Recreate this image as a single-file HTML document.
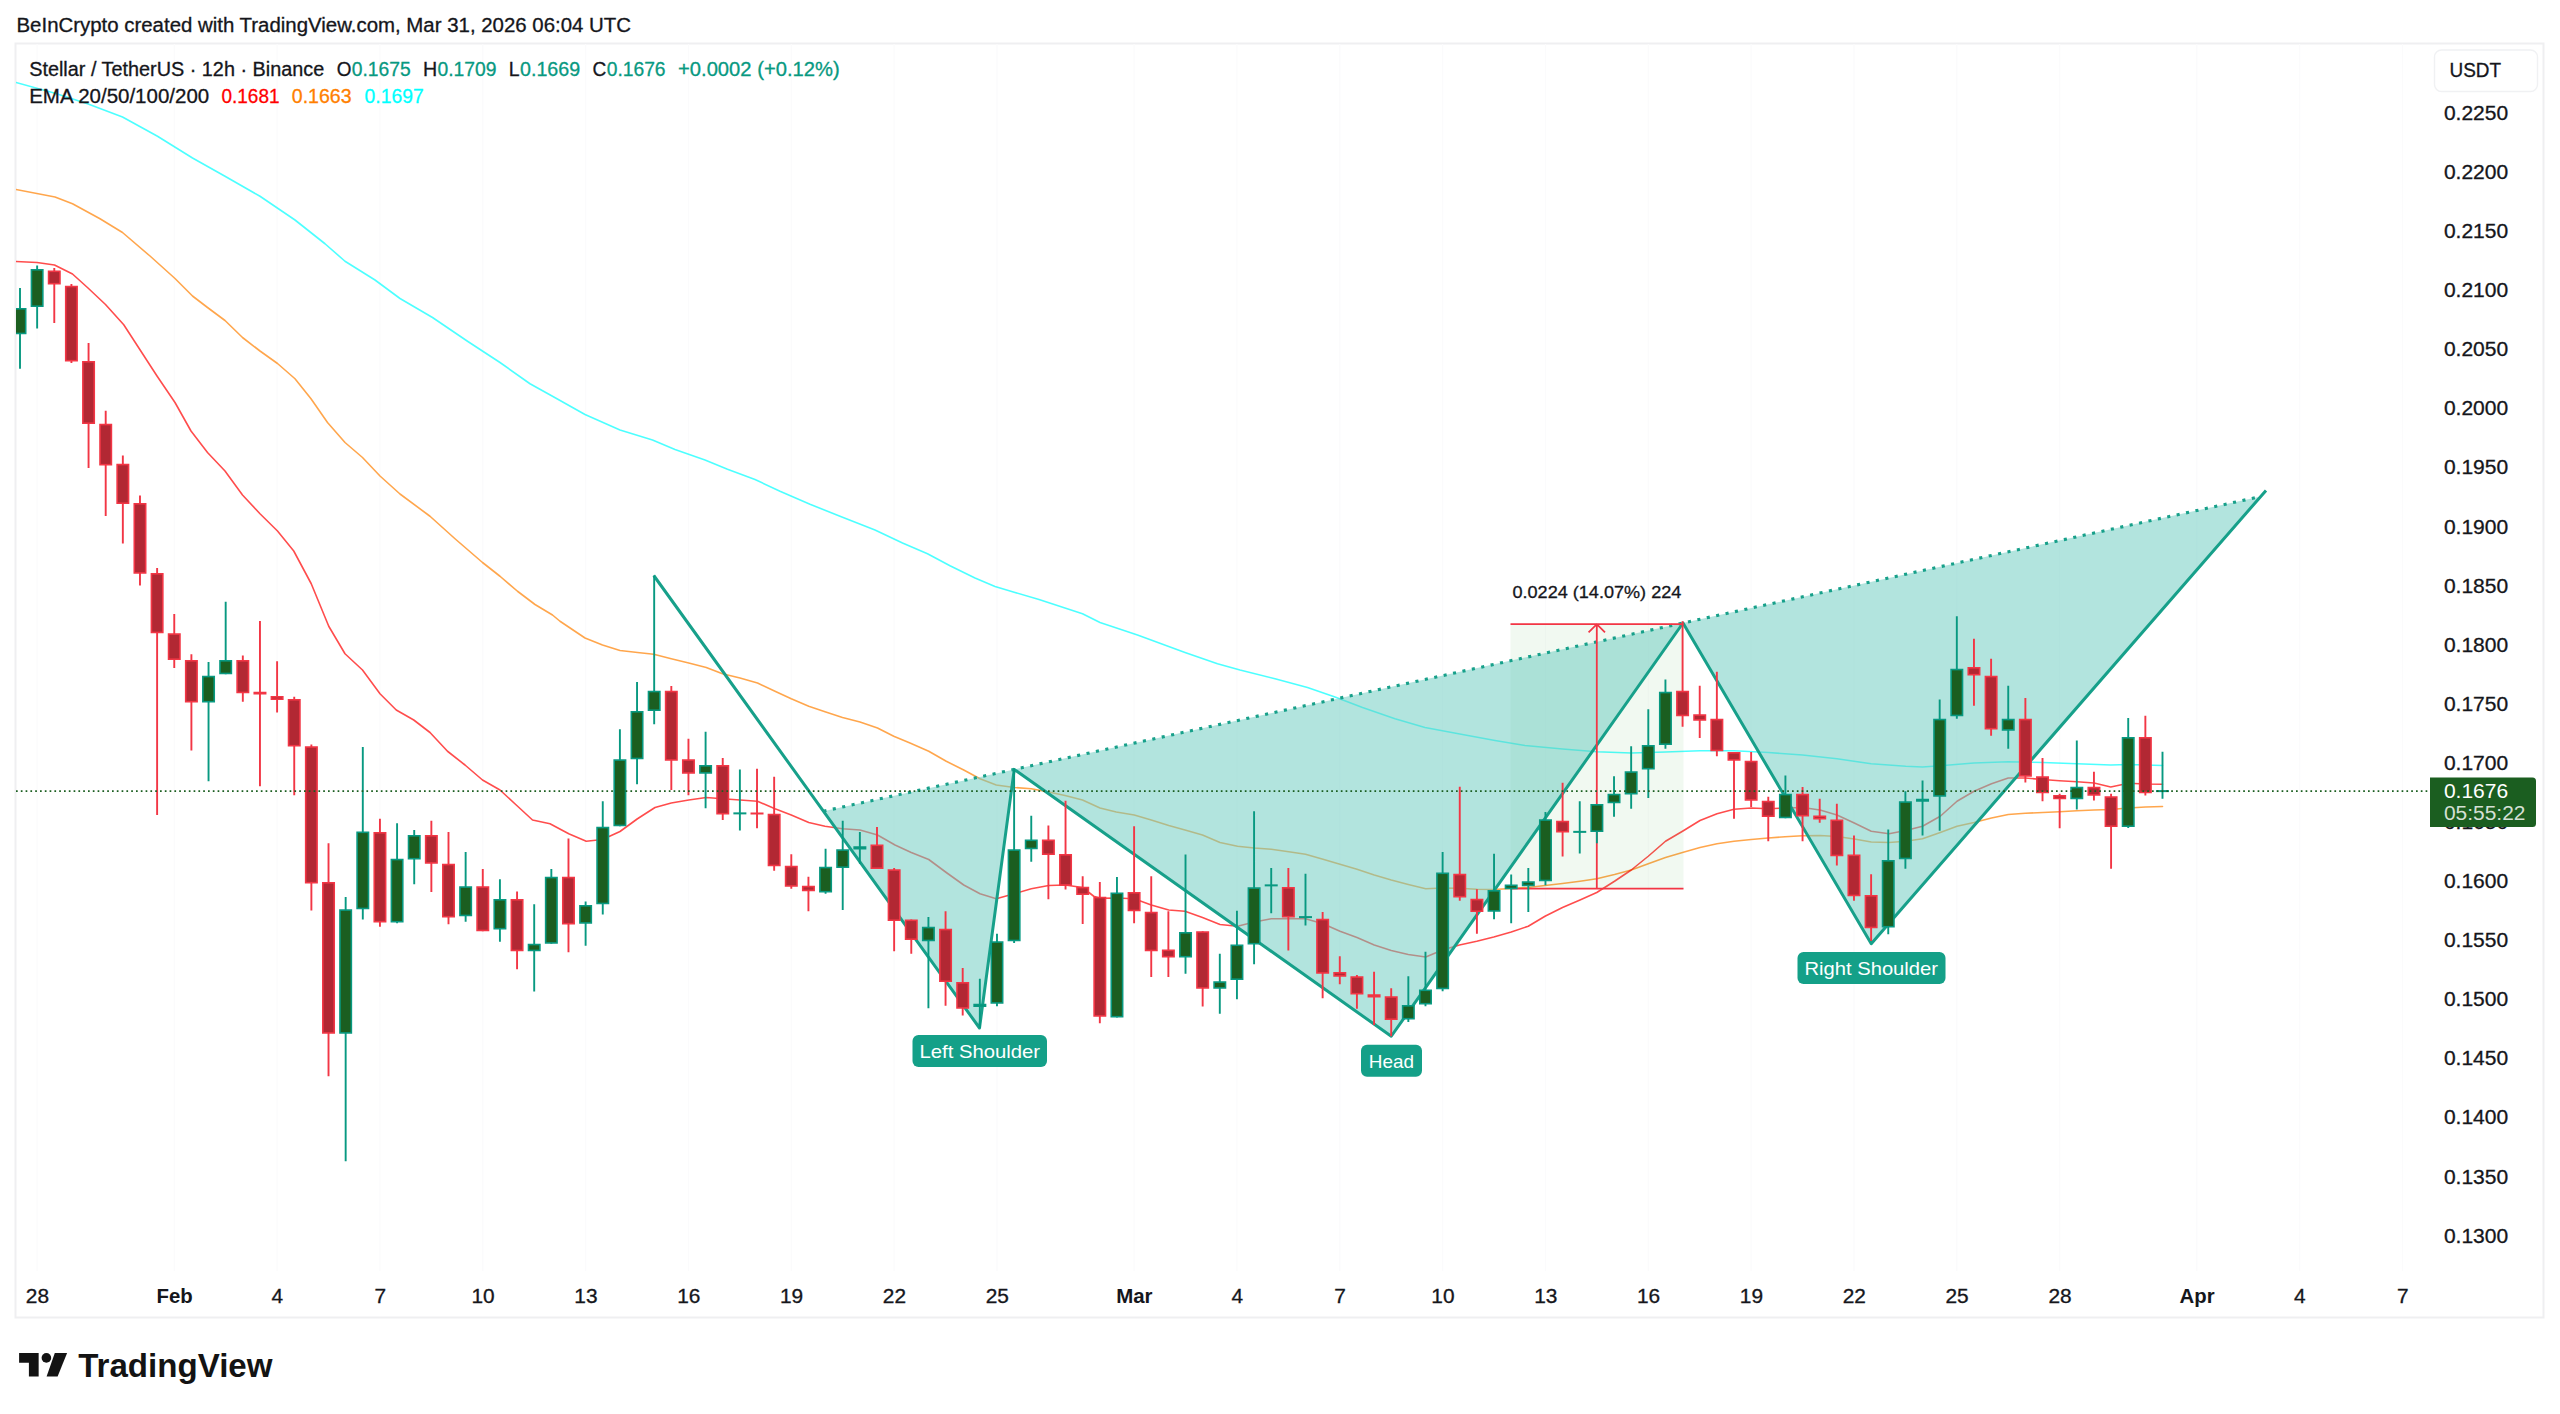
<!DOCTYPE html>
<html lang="en"><head><meta charset="utf-8"><title>XLMUSDT chart</title>
<style>
html,body{margin:0;padding:0;background:#fff;}
body{width:2560px;height:1414px;overflow:hidden;position:relative;font-family:"Liberation Sans", sans-serif;}
svg{position:absolute;left:0;top:0;display:block}
text{font-family:"Liberation Sans", sans-serif;stroke-width:0.3px;}
.ax{font-size:20px;fill:#15161b;stroke:#15161b}
.tx{font-size:19.6px;fill:#15161b;stroke:#15161b;text-anchor:middle}
.b{font-weight:bold;stroke:none}
</style></head><body>
<svg width="2560" height="1414" viewBox="0 0 2560 1414">
<defs><clipPath id="plot"><rect x="16" y="44" width="2414" height="1228"/></clipPath></defs>
<rect x="0" y="0" width="2560" height="1414" fill="#ffffff"/>

<rect x="15.5" y="43.5" width="2528" height="1274" fill="none" stroke="#efeff1" stroke-width="2"/>
<path d="M37.1 44V1271 M174.3 44V1271 M277.1 44V1271 M379.9 44V1271 M482.8 44V1271 M585.6 44V1271 M688.5 44V1271 M791.3 44V1271 M894.1 44V1271 M997.0 44V1271 M1134.1 44V1271 M1236.9 44V1271 M1339.8 44V1271 M1442.6 44V1271 M1545.5 44V1271 M1648.3 44V1271 M1751.1 44V1271 M1854.0 44V1271 M1956.8 44V1271 M2059.7 44V1271 M2196.8 44V1271 M2299.6 44V1271 M2402.5 44V1271" stroke="#fbfbfc" stroke-width="1.2" fill="none"/>
<g clip-path="url(#plot)">
<polyline points="16.00,82.50 55.00,93.25 87.50,103.75 122.50,117.00 157.50,136.25 192.50,158.00 225.00,176.25 260.00,196.25 295.00,220.00 325.00,243.75 345.00,261.25 375.00,280.00 400.00,298.50 432.50,317.50 467.50,341.25 500.00,362.50 530.00,383.75 552.50,396.25 585.00,414.50 620.00,430.00 652.50,440.00 675.00,449.50 705.00,460.00 727.50,469.25 755.00,479.50 780.00,491.25 810.00,504.25 840.00,516.25 875.00,530.00 902.50,543.00 927.50,553.75 950.00,565.75 975.00,578.00 995.00,586.50 1015.00,592.50 1039.00,599.50 1082.50,613.75 1100.00,622.50 1137.50,635.00 1185.00,652.50 1217.50,663.75 1240.00,670.00 1275.00,678.75 1307.50,687.50 1335.00,697.00 1362.50,707.50 1395.00,718.75 1425.00,727.50 1462.50,734.50 1495.00,740.50 1525.00,745.50 1562.50,749.00 1596.75,751.75 1631.25,753.00 1665.50,752.00 1700.00,750.75 1734.00,750.75 1768.25,752.50 1802.50,755.00 1837.00,758.75 1871.25,763.75 1905.75,766.25 1922.50,767.00 1940.25,765.75 1974.00,763.00 2008.25,761.75 2042.75,762.50 2077.00,763.75 2110.75,765.00 2128.50,764.50 2145.50,765.00 2162.50,765.50" fill="none" stroke="#00ffff" stroke-opacity="0.7" stroke-width="1.6" stroke-linejoin="round" stroke-linecap="round"/>
<polyline points="16.00,189.50 55.00,197.00 72.50,203.75 100.00,218.75 122.50,232.50 150.00,256.00 175.00,278.50 192.50,296.00 207.50,307.50 225.00,320.50 242.50,337.50 260.00,351.00 277.50,363.50 295.00,378.75 311.00,398.75 327.50,422.50 345.00,442.50 362.50,457.50 380.00,476.00 400.00,494.00 430.00,516.25 455.00,538.75 482.50,562.50 500.00,576.25 517.50,591.25 535.00,604.50 552.50,615.00 560.00,621.25 585.00,638.00 602.50,645.00 620.00,650.50 637.50,652.50 653.75,654.25 671.25,658.75 688.75,663.00 706.25,667.50 722.50,673.75 740.00,678.00 757.50,683.00 775.00,691.25 791.25,698.75 808.75,706.25 825.00,711.75 842.50,717.50 860.00,722.00 877.50,728.00 893.75,736.25 910.00,743.00 928.75,751.25 946.25,761.25 963.75,770.00 980.00,778.75 996.25,785.00 1014.25,787.50 1031.25,788.75 1048.75,792.00 1065.00,795.50 1082.50,800.00 1100.00,808.00 1116.25,812.00 1134.25,815.00 1151.25,820.00 1168.75,825.50 1185.00,830.00 1202.50,835.00 1220.00,842.50 1237.50,846.25 1254.25,848.00 1271.25,849.25 1288.75,851.75 1305.50,854.25 1323.00,859.25 1340.00,864.25 1357.00,869.25 1374.25,875.00 1391.25,880.00 1408.25,884.50 1425.75,888.75 1442.50,888.00 1459.50,888.25 1476.75,889.25 1493.75,889.50 1511.25,888.50 1528.25,887.50 1545.00,885.50 1562.50,883.50 1580.00,881.25 1596.75,878.75 1614.50,874.50 1631.25,870.00 1648.25,863.75 1665.50,857.50 1682.50,852.50 1700.00,847.50 1717.00,843.75 1734.00,841.25 1751.25,839.50 1768.25,838.00 1785.00,836.75 1802.50,835.75 1820.00,835.50 1837.00,836.50 1854.25,839.00 1871.25,842.00 1889.00,842.50 1905.75,841.25 1922.50,838.75 1940.25,832.50 1957.00,826.25 1974.00,822.50 1991.50,818.00 2008.25,814.50 2025.25,813.25 2042.75,812.50 2059.50,811.75 2077.00,810.75 2094.00,810.00 2110.75,809.50 2128.50,808.00 2145.50,807.00 2162.50,806.50" fill="none" stroke="#ff8000" stroke-opacity="0.7" stroke-width="1.6" stroke-linejoin="round" stroke-linecap="round"/>
<polyline points="16.00,261.50 37.00,262.50 54.50,265.00 72.50,274.00 88.00,288.00 105.50,304.50 123.75,324.75 139.50,349.00 157.00,376.00 175.00,402.50 191.00,431.00 207.50,452.50 225.00,471.00 242.50,495.00 260.00,513.75 277.50,531.00 293.75,551.00 311.25,583.75 328.75,626.25 345.00,653.75 362.50,670.00 380.00,693.75 396.25,710.00 413.75,720.00 430.00,732.50 447.50,751.25 465.00,765.00 482.50,780.00 500.00,790.00 516.25,805.00 532.50,820.00 550.00,823.75 568.75,833.75 586.25,841.25 602.50,839.50 620.00,831.50 637.50,818.75 655.00,807.50 671.25,803.00 688.75,800.00 706.25,797.50 722.50,798.75 740.00,800.00 757.50,801.25 775.00,808.75 791.25,815.00 808.75,822.50 825.00,826.25 842.50,828.75 860.00,830.00 877.50,835.00 895.00,845.00 911.25,852.50 928.75,859.50 946.25,872.50 963.75,885.00 980.00,893.75 996.25,898.75 1014.25,893.75 1031.25,888.75 1048.75,885.50 1065.00,885.00 1082.50,887.50 1093.75,896.25 1100.00,898.25 1116.25,898.00 1134.25,898.75 1151.25,905.00 1168.75,910.00 1185.00,911.25 1202.50,917.50 1220.00,924.50 1237.50,926.25 1254.25,922.00 1271.25,918.75 1288.75,918.75 1305.50,918.75 1323.00,923.75 1340.00,931.25 1357.00,937.50 1374.25,945.00 1391.25,950.50 1408.25,954.50 1425.75,957.00 1442.50,950.00 1459.50,945.00 1476.75,941.25 1493.75,937.00 1511.25,932.00 1528.25,926.25 1545.00,916.25 1562.50,907.50 1580.00,900.00 1596.75,892.50 1614.50,881.25 1631.25,870.00 1648.25,856.25 1665.50,841.25 1682.50,831.25 1700.00,820.50 1717.00,813.75 1734.00,809.25 1751.25,808.00 1768.25,808.75 1785.00,808.00 1802.50,807.50 1820.00,810.00 1837.00,815.00 1854.25,823.00 1871.25,831.25 1889.00,833.75 1905.75,830.50 1922.50,826.25 1940.25,816.25 1957.00,801.25 1974.00,791.25 1991.50,783.75 2008.25,778.00 2025.25,778.00 2042.75,779.50 2059.50,780.75 2077.00,781.75 2094.00,783.00 2110.75,787.00 2128.50,783.25 2145.50,784.00 2162.50,784.25" fill="none" stroke="#ff0000" stroke-opacity="0.7" stroke-width="1.6" stroke-linejoin="round" stroke-linecap="round"/>
<rect x="1510.5" y="624.2" width="173.0" height="264.4" fill="rgba(76,175,80,0.08)"/>
<polygon points="823.41,811.18 979.50,1028.00 1014.25,769.40" fill="rgba(110,204,193,0.53)"/>
<polygon points="1014.25,769.40 1391.25,1036.25 1683.00,623.00" fill="rgba(110,204,193,0.53)"/>
<polygon points="1683.00,623.00 1871.25,943.75 2260.65,496.54" fill="rgba(110,204,193,0.53)"/>
<polyline points="653.75,575.50 979.50,1028.00 1014.25,769.40 1391.25,1036.25 1683.00,623.00 1871.25,943.75 2266.00,490.40" fill="none" stroke="#17a08a" stroke-width="3" stroke-linejoin="round" stroke-linecap="butt"/>
<line x1="823.41" y1="811.18" x2="2260.65" y2="496.54" stroke="#17a08a" stroke-width="3.1" stroke-dasharray="3.1 6.52"/>
<path d="M1510.5 624.2H1683.5M1510.5 888.6H1683.5M1596.8 888.6V624.2M1588.6 632.4000000000001L1596.8 624.2L1605 632.4000000000001" fill="none" stroke="#f23645" stroke-width="1.8"/>
<path d="M20.00 288.00V368.75M37.14 265.50V328.50M208.54 662.00V781.25M225.68 601.75V674.25M345.66 897.00V1161.25M362.80 747.00V919.50M397.08 823.25V923.25M414.22 830.00V884.25M465.64 852.00V921.75M499.92 879.25V941.75M534.20 904.25V991.50M551.34 869.00V943.75M585.62 901.50V945.75M602.76 801.25V914.50M619.90 729.25V826.25M637.04 682.00V784.25M654.18 575.50V724.25M705.60 731.75V808.25M739.88 769.50V830.50M825.58 848.75V893.75M842.72 820.75V910.00M859.86 832.00V863.75M928.42 917.00V1008.25M979.84 978.75V1028.00M996.98 933.75V1006.25M1014.12 768.75V943.00M1031.26 815.75V861.75M1116.96 877.00V1017.50M1185.52 854.50V973.75M1219.80 953.75V1013.75M1236.94 910.75V999.25M1254.08 811.25V964.25M1271.22 868.00V913.25M1305.50 873.75V925.50M1408.34 976.25V1022.00M1425.48 951.75V1006.25M1442.62 852.00V991.25M1494.04 853.75V919.25M1511.18 874.50V923.25M1528.32 868.00V912.00M1545.46 812.00V885.25M1579.74 801.25V853.50M1596.88 804.00V843.25M1614.02 776.25V816.75M1631.16 746.25V808.75M1648.30 709.25V798.00M1665.44 679.50V748.75M1785.42 775.50V818.25M1888.26 829.50V934.25M1905.40 791.25V868.75M1922.54 780.50V835.50M1939.68 699.50V830.75M1956.82 616.25V718.75M2008.24 685.75V748.75M2076.80 740.50V809.50M2128.22 718.00V828.00M2162.50 751.75V798.75" stroke="#089981" stroke-width="1.9" fill="none"/>
<path d="M54.28 268.00V323.00M71.42 284.00V363.00M88.56 343.00V468.00M105.70 410.75V516.00M122.84 455.50V543.50M139.98 495.50V585.50M157.12 568.00V815.00M174.26 614.00V668.00M191.40 654.25V750.50M242.82 655.50V701.75M259.96 621.00V786.25M277.10 661.25V712.50M294.24 696.75V795.25M311.38 744.50V910.50M328.52 843.25V1076.25M379.94 818.75V926.75M431.36 820.75V892.00M448.50 832.00V924.25M482.78 869.00V931.25M517.06 891.50V969.25M568.48 838.50V952.25M671.32 686.00V790.00M688.46 738.75V795.25M722.74 758.00V820.00M757.02 768.75V828.25M774.16 776.75V870.75M791.30 854.25V888.75M808.44 876.75V911.25M877.00 827.00V869.00M894.14 868.00V951.25M911.28 919.50V953.75M945.56 911.25V1005.75M962.70 968.00V1015.50M1048.40 825.50V899.25M1065.54 800.75V889.50M1082.68 876.25V924.00M1099.82 882.00V1023.25M1134.10 826.25V923.25M1151.24 876.25V977.00M1168.38 911.25V977.00M1202.66 931.25V1006.50M1288.36 868.00V950.50M1322.64 912.00V998.25M1339.78 956.25V984.25M1356.92 975.00V1008.75M1374.06 971.75V1025.00M1391.20 988.25V1036.25M1459.76 786.75V900.75M1476.90 889.25V933.75M1562.60 782.75V856.50M1682.58 621.25V726.75M1699.72 685.75V738.00M1716.86 671.75V756.25M1734.00 752.00V818.75M1751.14 752.00V807.00M1768.28 796.75V841.25M1802.56 787.00V841.25M1819.70 798.75V822.75M1836.84 803.75V865.50M1853.98 835.50V900.75M1871.12 874.25V941.00M1973.96 638.75V705.75M1991.10 658.75V735.75M2025.38 698.00V782.50M2042.52 758.00V801.25M2059.66 793.75V828.25M2093.94 771.75V800.50M2111.08 793.75V868.75M2145.36 715.75V795.50" stroke="#f23645" stroke-width="1.9" fill="none"/>
<g fill="#1b5e20" stroke="#089981" stroke-width="1.6"><rect x="14.30" y="308.80" width="11.40" height="24.65"/><rect x="31.44" y="269.80" width="11.40" height="36.40"/><rect x="202.84" y="676.55" width="11.40" height="25.15"/><rect x="219.98" y="660.80" width="11.40" height="12.65"/><rect x="339.96" y="910.05" width="11.40" height="122.90"/><rect x="357.10" y="832.30" width="11.40" height="76.15"/><rect x="391.38" y="859.55" width="11.40" height="62.15"/><rect x="408.52" y="835.80" width="11.40" height="22.90"/><rect x="459.94" y="887.05" width="11.40" height="28.40"/><rect x="494.22" y="899.80" width="11.40" height="28.90"/><rect x="528.50" y="944.55" width="11.40" height="5.90"/><rect x="545.64" y="877.55" width="11.40" height="65.40"/><rect x="579.92" y="905.80" width="11.40" height="17.15"/><rect x="597.06" y="827.55" width="11.40" height="75.90"/><rect x="614.20" y="760.05" width="11.40" height="65.40"/><rect x="631.34" y="711.80" width="11.40" height="46.65"/><rect x="648.48" y="691.55" width="11.40" height="18.65"/><rect x="699.90" y="765.80" width="11.40" height="7.15"/><rect x="734.18" y="813.17" width="11.40" height="0.40"/><rect x="819.88" y="867.55" width="11.40" height="24.15"/><rect x="837.02" y="850.05" width="11.40" height="17.15"/><rect x="854.16" y="847.05" width="11.40" height="1.65"/><rect x="922.72" y="927.55" width="11.40" height="12.90"/><rect x="974.14" y="1004.55" width="11.40" height="1.65"/><rect x="991.28" y="942.05" width="11.40" height="60.90"/><rect x="1008.42" y="850.05" width="11.40" height="90.40"/><rect x="1025.56" y="840.30" width="11.40" height="8.15"/><rect x="1111.26" y="893.30" width="11.40" height="123.40"/><rect x="1179.82" y="932.80" width="11.40" height="23.90"/><rect x="1214.10" y="982.05" width="11.40" height="5.90"/><rect x="1231.24" y="945.30" width="11.40" height="33.90"/><rect x="1248.38" y="888.05" width="11.40" height="55.65"/><rect x="1265.52" y="885.17" width="11.40" height="0.40"/><rect x="1299.80" y="916.92" width="11.40" height="0.40"/><rect x="1402.64" y="1005.80" width="11.40" height="12.90"/><rect x="1419.78" y="990.30" width="11.40" height="13.40"/><rect x="1436.92" y="873.30" width="11.40" height="115.15"/><rect x="1488.34" y="890.80" width="11.40" height="20.15"/><rect x="1505.48" y="885.30" width="11.40" height="3.15"/><rect x="1522.62" y="882.05" width="11.40" height="3.40"/><rect x="1539.76" y="820.05" width="11.40" height="60.40"/><rect x="1574.04" y="831.67" width="11.40" height="0.40"/><rect x="1591.18" y="804.80" width="11.40" height="26.40"/><rect x="1608.32" y="794.55" width="11.40" height="7.90"/><rect x="1625.46" y="772.05" width="11.40" height="21.65"/><rect x="1642.60" y="745.80" width="11.40" height="22.90"/><rect x="1659.74" y="692.55" width="11.40" height="51.65"/><rect x="1779.72" y="794.55" width="11.40" height="22.90"/><rect x="1882.56" y="860.80" width="11.40" height="65.90"/><rect x="1899.70" y="802.05" width="11.40" height="56.40"/><rect x="1916.84" y="799.55" width="11.40" height="1.40"/><rect x="1933.98" y="719.55" width="11.40" height="76.40"/><rect x="1951.12" y="669.55" width="11.40" height="45.90"/><rect x="2002.54" y="719.55" width="11.40" height="10.40"/><rect x="2071.10" y="787.55" width="11.40" height="10.90"/><rect x="2122.52" y="737.80" width="11.40" height="88.40"/><rect x="2156.80" y="790.92" width="11.40" height="0.40"/></g>
<g fill="#b22833" stroke="#f23645" stroke-width="1.6"><rect x="48.58" y="271.30" width="11.40" height="12.40"/><rect x="65.72" y="286.55" width="11.40" height="74.15"/><rect x="82.86" y="361.80" width="11.40" height="61.40"/><rect x="100.00" y="424.55" width="11.40" height="40.15"/><rect x="117.14" y="464.55" width="11.40" height="38.65"/><rect x="134.28" y="503.80" width="11.40" height="69.15"/><rect x="151.42" y="573.80" width="11.40" height="58.65"/><rect x="168.56" y="634.05" width="11.40" height="25.15"/><rect x="185.70" y="660.80" width="11.40" height="40.90"/><rect x="237.12" y="660.80" width="11.40" height="31.65"/><rect x="254.26" y="692.55" width="11.40" height="1.15"/><rect x="271.40" y="696.80" width="11.40" height="2.40"/><rect x="288.54" y="699.80" width="11.40" height="45.90"/><rect x="305.68" y="747.05" width="11.40" height="135.65"/><rect x="322.82" y="882.80" width="11.40" height="150.15"/><rect x="374.24" y="832.80" width="11.40" height="88.90"/><rect x="425.66" y="835.80" width="11.40" height="27.15"/><rect x="442.80" y="864.55" width="11.40" height="52.15"/><rect x="477.08" y="887.05" width="11.40" height="43.40"/><rect x="511.36" y="899.80" width="11.40" height="50.65"/><rect x="562.78" y="877.55" width="11.40" height="46.15"/><rect x="665.62" y="691.55" width="11.40" height="68.40"/><rect x="682.76" y="760.05" width="11.40" height="12.90"/><rect x="717.04" y="765.80" width="11.40" height="47.90"/><rect x="751.32" y="813.30" width="11.40" height="0.40"/><rect x="768.46" y="814.55" width="11.40" height="50.90"/><rect x="785.60" y="866.55" width="11.40" height="19.40"/><rect x="802.74" y="886.55" width="11.40" height="3.90"/><rect x="871.30" y="845.30" width="11.40" height="22.90"/><rect x="888.44" y="870.05" width="11.40" height="50.15"/><rect x="905.58" y="920.30" width="11.40" height="18.90"/><rect x="939.86" y="929.55" width="11.40" height="51.65"/><rect x="957.00" y="982.80" width="11.40" height="25.15"/><rect x="1042.70" y="840.30" width="11.40" height="13.90"/><rect x="1059.84" y="854.80" width="11.40" height="30.15"/><rect x="1076.98" y="887.55" width="11.40" height="6.65"/><rect x="1094.12" y="897.55" width="11.40" height="118.40"/><rect x="1128.40" y="892.80" width="11.40" height="17.65"/><rect x="1145.54" y="912.55" width="11.40" height="37.90"/><rect x="1162.68" y="950.30" width="11.40" height="6.40"/><rect x="1196.96" y="932.05" width="11.40" height="55.90"/><rect x="1282.66" y="887.80" width="11.40" height="28.90"/><rect x="1316.94" y="919.55" width="11.40" height="53.40"/><rect x="1334.08" y="972.80" width="11.40" height="3.15"/><rect x="1351.22" y="977.05" width="11.40" height="16.65"/><rect x="1368.36" y="995.05" width="11.40" height="1.65"/><rect x="1385.50" y="997.05" width="11.40" height="22.15"/><rect x="1454.06" y="874.55" width="11.40" height="22.15"/><rect x="1471.20" y="899.55" width="11.40" height="11.65"/><rect x="1556.90" y="821.55" width="11.40" height="10.15"/><rect x="1676.88" y="691.55" width="11.40" height="23.90"/><rect x="1694.02" y="715.05" width="11.40" height="4.90"/><rect x="1711.16" y="719.55" width="11.40" height="30.90"/><rect x="1728.30" y="752.80" width="11.40" height="7.15"/><rect x="1745.44" y="761.55" width="11.40" height="38.40"/><rect x="1762.58" y="801.55" width="11.40" height="14.65"/><rect x="1796.86" y="794.55" width="11.40" height="21.15"/><rect x="1814.00" y="816.30" width="11.40" height="2.40"/><rect x="1831.14" y="820.30" width="11.40" height="35.15"/><rect x="1848.28" y="855.30" width="11.40" height="40.15"/><rect x="1865.42" y="895.80" width="11.40" height="31.65"/><rect x="1968.26" y="667.80" width="11.40" height="6.90"/><rect x="1985.40" y="676.55" width="11.40" height="52.15"/><rect x="2019.68" y="719.55" width="11.40" height="56.40"/><rect x="2036.82" y="777.05" width="11.40" height="15.40"/><rect x="2053.96" y="795.80" width="11.40" height="2.65"/><rect x="2088.24" y="787.55" width="11.40" height="7.40"/><rect x="2105.38" y="797.05" width="11.40" height="29.15"/><rect x="2139.66" y="737.80" width="11.40" height="54.65"/></g>
</g>
<line x1="16" y1="791.2" x2="2428" y2="791.2" stroke="#1b5e20" stroke-width="1.7" stroke-dasharray="1.7 3.1"/>
<text x="1512.5" y="598" font-size="17.2" fill="#15161b" stroke="#15161b" stroke-width="0.2" textLength="168.8" lengthAdjust="spacingAndGlyphs">0.0224 (14.07%) 224</text>
<rect x="912.5" y="1035" width="134.5" height="32" rx="6" ry="6" fill="#14a088"/>
<text x="919.5" y="1058.2" font-size="19" fill="#ffffff" textLength="120.5" lengthAdjust="spacingAndGlyphs">Left Shoulder</text>
<rect x="1361" y="1044.7" width="61" height="32.09999999999991" rx="6" ry="6" fill="#14a088"/>
<text x="1368.8" y="1068" font-size="19" fill="#ffffff" textLength="45.2" lengthAdjust="spacingAndGlyphs">Head</text>
<rect x="1797.5" y="952" width="148.0" height="32" rx="6" ry="6" fill="#14a088"/>
<text x="1804.5" y="975.2" font-size="19" fill="#ffffff" textLength="133.5" lengthAdjust="spacingAndGlyphs">Right Shoulder</text>
<text class="ax" x="2443.9" y="119.9" textLength="64.3" lengthAdjust="spacingAndGlyphs">0.2250</text>
<text class="ax" x="2443.9" y="179.0" textLength="64.3" lengthAdjust="spacingAndGlyphs">0.2200</text>
<text class="ax" x="2443.9" y="238.1" textLength="64.3" lengthAdjust="spacingAndGlyphs">0.2150</text>
<text class="ax" x="2443.9" y="297.2" textLength="64.3" lengthAdjust="spacingAndGlyphs">0.2100</text>
<text class="ax" x="2443.9" y="356.3" textLength="64.3" lengthAdjust="spacingAndGlyphs">0.2050</text>
<text class="ax" x="2443.9" y="415.4" textLength="64.3" lengthAdjust="spacingAndGlyphs">0.2000</text>
<text class="ax" x="2443.9" y="474.4" textLength="64.3" lengthAdjust="spacingAndGlyphs">0.1950</text>
<text class="ax" x="2443.9" y="533.5" textLength="64.3" lengthAdjust="spacingAndGlyphs">0.1900</text>
<text class="ax" x="2443.9" y="592.6" textLength="64.3" lengthAdjust="spacingAndGlyphs">0.1850</text>
<text class="ax" x="2443.9" y="651.7" textLength="64.3" lengthAdjust="spacingAndGlyphs">0.1800</text>
<text class="ax" x="2443.9" y="710.8" textLength="64.3" lengthAdjust="spacingAndGlyphs">0.1750</text>
<text class="ax" x="2443.9" y="769.9" textLength="64.3" lengthAdjust="spacingAndGlyphs">0.1700</text>
<text class="ax" x="2443.9" y="829.0" textLength="64.3" lengthAdjust="spacingAndGlyphs">0.1650</text>
<text class="ax" x="2443.9" y="888.1" textLength="64.3" lengthAdjust="spacingAndGlyphs">0.1600</text>
<text class="ax" x="2443.9" y="947.2" textLength="64.3" lengthAdjust="spacingAndGlyphs">0.1550</text>
<text class="ax" x="2443.9" y="1006.2" textLength="64.3" lengthAdjust="spacingAndGlyphs">0.1500</text>
<text class="ax" x="2443.9" y="1065.3" textLength="64.3" lengthAdjust="spacingAndGlyphs">0.1450</text>
<text class="ax" x="2443.9" y="1124.4" textLength="64.3" lengthAdjust="spacingAndGlyphs">0.1400</text>
<text class="ax" x="2443.9" y="1183.5" textLength="64.3" lengthAdjust="spacingAndGlyphs">0.1350</text>
<text class="ax" x="2443.9" y="1242.6" textLength="64.3" lengthAdjust="spacingAndGlyphs">0.1300</text>
<rect x="2434.5" y="50" width="103" height="41.5" rx="7" ry="7" fill="#fff" stroke="#f0f1f3" stroke-width="1.4"/>
<text x="2449.5" y="77.4" font-size="19.6" fill="#15161b" stroke="#15161b" textLength="51.5" lengthAdjust="spacingAndGlyphs">USDT</text>
<path d="M2430 777.4H2532.5a3.5 3.5 0 0 1 3.5 3.5V823.6a3.5 3.5 0 0 1 -3.5 3.5H2430Z" fill="#1b5e20"/>
<text x="2443.9" y="797.9" font-size="20" fill="#ffffff" textLength="64.3" lengthAdjust="spacingAndGlyphs">0.1676</text>
<text x="2443.9" y="820.2" font-size="20" fill="#ffffff" fill-opacity="0.82" textLength="81.6" lengthAdjust="spacingAndGlyphs">05:55:22</text>
<text class="tx" x="37.4" y="1303" textLength="23.2" lengthAdjust="spacingAndGlyphs">28</text>
<text class="tx b" x="174.6" y="1303" textLength="36.2" lengthAdjust="spacingAndGlyphs">Feb</text>
<text class="tx" x="277.4" y="1303" textLength="11.6" lengthAdjust="spacingAndGlyphs">4</text>
<text class="tx" x="380.2" y="1303" textLength="11.6" lengthAdjust="spacingAndGlyphs">7</text>
<text class="tx" x="483.1" y="1303" textLength="23.2" lengthAdjust="spacingAndGlyphs">10</text>
<text class="tx" x="585.9" y="1303" textLength="23.2" lengthAdjust="spacingAndGlyphs">13</text>
<text class="tx" x="688.8" y="1303" textLength="23.2" lengthAdjust="spacingAndGlyphs">16</text>
<text class="tx" x="791.6" y="1303" textLength="23.2" lengthAdjust="spacingAndGlyphs">19</text>
<text class="tx" x="894.4" y="1303" textLength="23.2" lengthAdjust="spacingAndGlyphs">22</text>
<text class="tx" x="997.3" y="1303" textLength="23.2" lengthAdjust="spacingAndGlyphs">25</text>
<text class="tx b" x="1134.4" y="1303" textLength="36.4" lengthAdjust="spacingAndGlyphs">Mar</text>
<text class="tx" x="1237.2" y="1303" textLength="11.6" lengthAdjust="spacingAndGlyphs">4</text>
<text class="tx" x="1340.1" y="1303" textLength="11.6" lengthAdjust="spacingAndGlyphs">7</text>
<text class="tx" x="1442.9" y="1303" textLength="23.2" lengthAdjust="spacingAndGlyphs">10</text>
<text class="tx" x="1545.8" y="1303" textLength="23.2" lengthAdjust="spacingAndGlyphs">13</text>
<text class="tx" x="1648.6" y="1303" textLength="23.2" lengthAdjust="spacingAndGlyphs">16</text>
<text class="tx" x="1751.4" y="1303" textLength="23.2" lengthAdjust="spacingAndGlyphs">19</text>
<text class="tx" x="1854.3" y="1303" textLength="23.2" lengthAdjust="spacingAndGlyphs">22</text>
<text class="tx" x="1957.1" y="1303" textLength="23.2" lengthAdjust="spacingAndGlyphs">25</text>
<text class="tx" x="2060.0" y="1303" textLength="23.2" lengthAdjust="spacingAndGlyphs">28</text>
<text class="tx b" x="2197.1" y="1303" textLength="35" lengthAdjust="spacingAndGlyphs">Apr</text>
<text class="tx" x="2299.9" y="1303" textLength="11.6" lengthAdjust="spacingAndGlyphs">4</text>
<text class="tx" x="2402.8" y="1303" textLength="11.6" lengthAdjust="spacingAndGlyphs">7</text>
<text x="16.5" y="32.3" font-size="19.6" fill="#15161b" stroke="#15161b" textLength="614.5" lengthAdjust="spacingAndGlyphs">BeInCrypto created with TradingView.com, Mar 31, 2026 06:04 UTC</text>
<text x="29.2" y="75.6" font-size="19.6" fill="#15161b" stroke="#15161b" textLength="295.0" lengthAdjust="spacingAndGlyphs">Stellar / TetherUS · 12h · Binance</text>
<text x="336.8" y="75.6" font-size="19.6" fill="#15161b" stroke="#15161b" textLength="14.7" lengthAdjust="spacingAndGlyphs">O</text>
<text x="351.8" y="75.6" font-size="19.6" fill="#089981" stroke="#089981" textLength="58.9" lengthAdjust="spacingAndGlyphs">0.1675</text>
<text x="423" y="75.6" font-size="19.6" fill="#15161b" stroke="#15161b" textLength="14.2" lengthAdjust="spacingAndGlyphs">H</text>
<text x="437.5" y="75.6" font-size="19.6" fill="#089981" stroke="#089981" textLength="59.0" lengthAdjust="spacingAndGlyphs">0.1709</text>
<text x="508.8" y="75.6" font-size="19.6" fill="#15161b" stroke="#15161b" textLength="10.8" lengthAdjust="spacingAndGlyphs">L</text>
<text x="520" y="75.6" font-size="19.6" fill="#089981" stroke="#089981" textLength="60.2" lengthAdjust="spacingAndGlyphs">0.1669</text>
<text x="592.5" y="75.6" font-size="19.6" fill="#15161b" stroke="#15161b" textLength="13.8" lengthAdjust="spacingAndGlyphs">C</text>
<text x="606.7" y="75.6" font-size="19.6" fill="#089981" stroke="#089981" textLength="58.9" lengthAdjust="spacingAndGlyphs">0.1676</text>
<text x="678" y="75.6" font-size="19.6" fill="#089981" stroke="#089981" textLength="161.7" lengthAdjust="spacingAndGlyphs">+0.0002 (+0.12%)</text>
<text x="29.2" y="103" font-size="19.6" fill="#15161b" stroke="#15161b" textLength="180.0" lengthAdjust="spacingAndGlyphs">EMA 20/50/100/200</text>
<text x="221.5" y="103" font-size="19.6" fill="#ff0000" stroke="#ff0000" textLength="58.0" lengthAdjust="spacingAndGlyphs">0.1681</text>
<text x="291.8" y="103" font-size="19.6" fill="#ff8000" stroke="#ff8000" textLength="59.8" lengthAdjust="spacingAndGlyphs">0.1663</text>
<text x="364.6" y="103" font-size="19.6" fill="#00ffff" stroke="#00ffff" textLength="59.1" lengthAdjust="spacingAndGlyphs">0.1697</text>
<g fill="#131313"><path d="M19.1 1353.1H38.65V1376.6H28.9V1362.75H19.1Z"/><circle cx="46.4" cy="1357.9" r="4.8"/><path d="M54.8 1353.1H67.1L57.6 1376.6H46.6Z"/></g>
<text x="78.2" y="1376.6" font-size="32.8" font-weight="bold" fill="#131313" textLength="194.3" lengthAdjust="spacingAndGlyphs">TradingView</text>
</svg></body></html>
